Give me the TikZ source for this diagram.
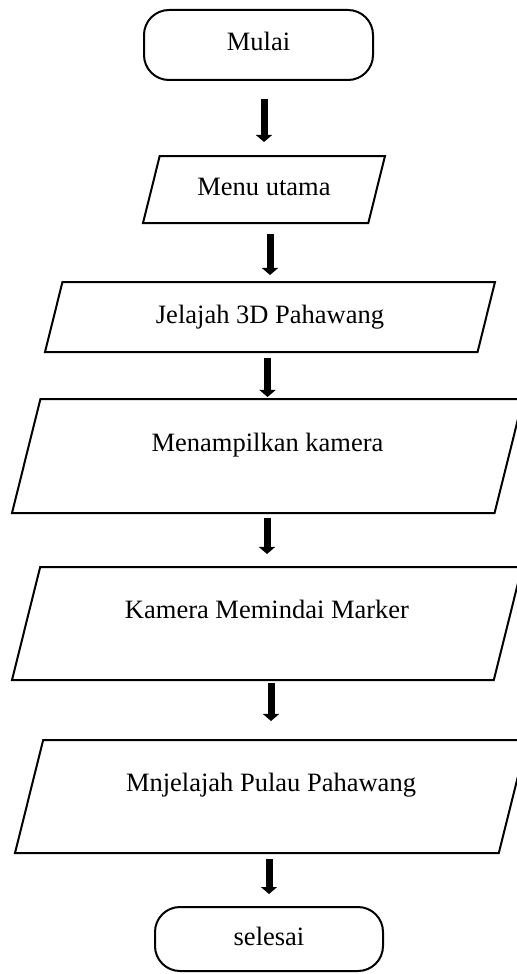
\documentclass[tikz,border=0pt]{standalone}
\usepackage{fontspec}
\setmainfont{Liberation Serif}
\usetikzlibrary{arrows.meta,shapes.geometric}
\tikzset{pin/.style={line width=3.5pt, -{Triangle[length=3.5pt, width=8pt]}},
  term/.style={draw, line width=1pt, rounded corners=12.5pt, minimum width=114.5pt, minimum height=35pt, text height=9pt, text depth=3pt},
  io/.style={draw, line width=1pt, trapezium, trapezium left angle=76, trapezium right angle=104, trapezium stretches body, inner xsep=0pt, text height=9pt, text depth=3pt},
  io big/.style={io, text depth=14pt}}

\begin{document}
\begin{tikzpicture}[x=0.5pt, y=-0.5pt, font=\fontsize{13.25}{16}\selectfont]
  \useasboundingbox (0,0) rectangle (516,974);
  \node[term] (mulai) at (258.5,45) {Mulai};
  \node[io, minimum width=121pt, inner ysep=10.75pt] (menu) at (264,189.5) {Menu utama};
  \node[io, minimum width=225pt, inner ysep=11.5pt] (jelajah) at (270,317) {Jelajah 3D Pahawang};
  \node[io big, minimum width=255.5pt, inner ysep=17pt] (kamera) at (267.5,456) {Menampilkan kamera};
  \node[io big, minimum width=255pt, inner ysep=16.75pt] (pindai) at (267,623.5) {Kamera Memindai Marker};
  \node[io big, minimum width=256pt, inner ysep=16.75pt] (pulau) at (271,796.5) {Mnjelajah Pulau Pahawang};
  \node[term, minimum width=114pt, minimum height=32pt] (selesai) at (269,939) {selesai};
  % alur
  \foreach \a/\b/\s/\e in {mulai/menu/9pt/6.5pt, menu/jelajah/5pt/3pt, jelajah/kamera/2.5pt/0.5pt,
      kamera/pindai/2pt/6pt, pindai/pulau/1pt/9pt, pulau/selesai/2.5pt/6pt}
    {\draw[pin, shorten <=\s, shorten >=\e] (\a.south -| \b.north) -- (\b.north);}
\end{tikzpicture}
\end{document}
